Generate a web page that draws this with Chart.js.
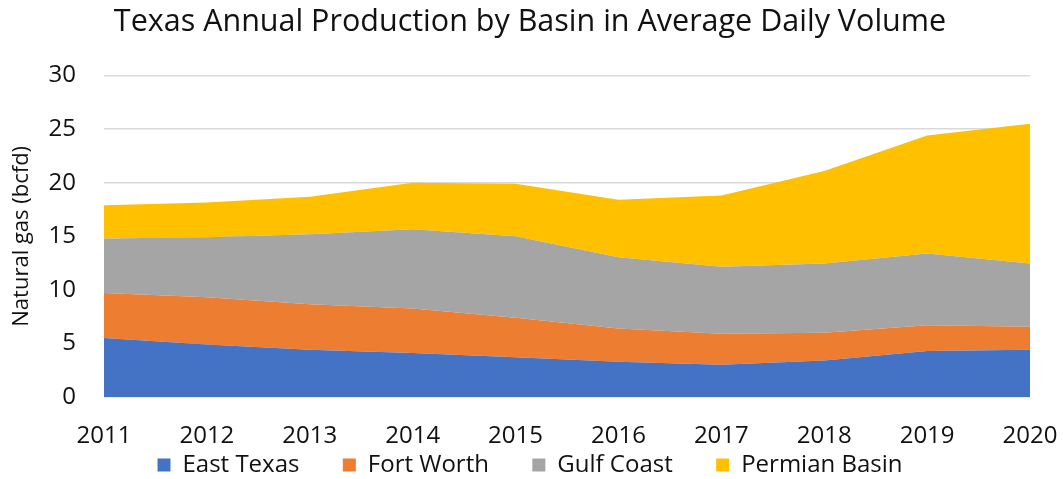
<!DOCTYPE html>
<html>
<head>
<meta charset="utf-8">
<title>Texas Annual Production by Basin</title>
<script src="https://cdn.jsdelivr.net/npm/chart.js@4.4.1/dist/chart.umd.min.js"></script>
<style>
  html, body { margin: 0; padding: 0; background: #fff; }
  #wrap { width: 1063px; height: 479px; }
</style>
</head>
<body>
<div id="wrap"><canvas id="basinChart" width="1063" height="479"></canvas></div>
<script>
// Chart data (bcfd, average daily volume)
const years = ["2011", "2012", "2013", "2014", "2015", "2016", "2017", "2018", "2019", "2020"];
const eastTexas = [5.5, 4.9, 4.4, 4.1, 3.7, 3.3, 3.0, 3.4, 4.3, 4.4];
const fortWorth = [4.2, 4.4, 4.25, 4.15, 3.7, 3.1, 2.9, 2.6, 2.4, 2.15];
const gulfCoast = [5.1, 5.6, 6.55, 7.4, 7.6, 6.65, 6.25, 6.45, 6.7, 5.9];
const permianBasin = [3.1, 3.25, 3.5, 4.35, 4.9, 5.35, 6.65, 8.65, 11.0, 13.05];
const yTicks = [0, 5, 10, 15, 20, 25, 30];

const fontFamily = "'Open Sans', 'Noto Sans', sans-serif";
const legendGap = "      "; // extra room after each legend entry
const legendHeight = 32;

function areaSeries(label, data, color, fill) {
  return {
    label: label,
    data: data,
    backgroundColor: color,
    borderColor: color,
    borderWidth: 0,
    pointRadius: 0,
    pointHoverRadius: 0,
    fill: fill,
    tension: 0,
  };
}

const ctx = document.getElementById("basinChart").getContext("2d");

const basinChart = new Chart(ctx, {
  type: "line",
  data: {
    labels: years,
    datasets: [
      areaSeries("East Texas", eastTexas, "#4472C4", "origin"),
      areaSeries("Fort Worth", fortWorth, "#ED7D31", "-1"),
      areaSeries("Gulf Coast", gulfCoast, "#A5A5A5", "-1"),
      areaSeries("Permian Basin", permianBasin, "#FFC000", "-1"),
    ],
  },
  options: {
    responsive: false,
    animation: false,
    layout: {
      padding: { left: 30, right: 33, top: 0, bottom: 0 },
    },
    plugins: {
      title: {
        display: true,
        text: "Texas Annual Production by Basin in Average Daily Volume",
        color: "#111",
        font: { family: fontFamily, size: 30.5, weight: "normal" },
        padding: { top: 4, bottom: 35 },
      },
      legend: {
        position: "bottom",
        labels: {
          color: "#111",
          font: { family: fontFamily, size: 24 },
          boxWidth: 13,
          boxHeight: 13,
          padding: 6,
          generateLabels: function (chart) {
            const items = Chart.defaults.plugins.legend.labels.generateLabels(chart);
            items.forEach((item, i) => {
              if (i < items.length - 1) item.text += legendGap;
            });
            return items;
          },
        },
      },
      tooltip: { enabled: false },
    },
    scales: {
      x: {
        offset: false,
        grid: { display: false },
        border: { display: false },
        afterFit: function (scale) {
          scale.paddingLeft = 0;
          scale.paddingRight = 0;
          scale.height = 50;
        },
        ticks: {
          color: "#111",
          font: { family: fontFamily, size: 24 },
          maxRotation: 0,
          padding: 17,
        },
      },
      y: {
        stacked: true,
        min: 0,
        max: 30,
        afterBuildTicks: function (scale) {
          scale.ticks = yTicks.map((v) => ({ value: v }));
        },
        afterFit: function (scale) {
          scale.width = 74;
        },
        grid: { color: "#d9d9d9", lineWidth: 1.5, drawTicks: false },
        border: { display: false },
        ticks: {
          color: "#111",
          font: { family: fontFamily, size: 24 },
          padding: 28,
        },
        title: {
          display: true,
          text: "Natural gas (bcfd)",
          color: "#111",
          font: { family: fontFamily, size: 22 },
          padding: { top: -21, bottom: 0 },
        },
      },
    },
  },
});

// pin the legend height so the bottom block lines up with the original
const legendFit = basinChart.legend.fit;
basinChart.legend.fit = function () {
  legendFit.call(this);
  this.height = legendHeight;
};
basinChart.update();
</script>
</body>
</html>
